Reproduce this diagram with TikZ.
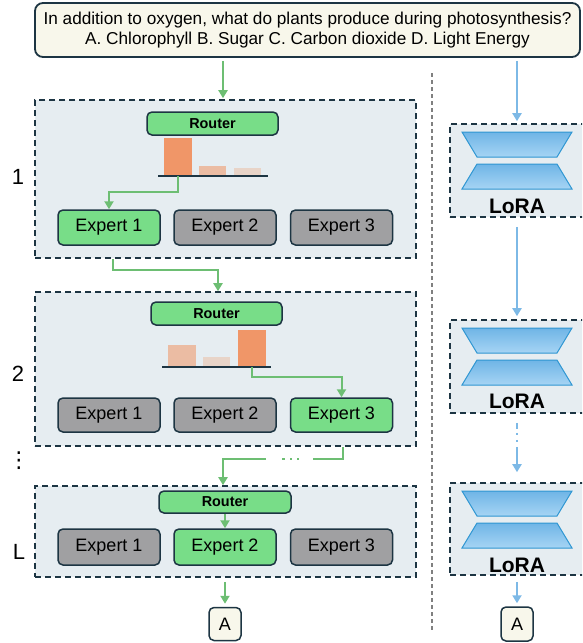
\documentclass[tikz,border=0pt]{standalone}
\usepackage{fontspec}
\setmainfont{Liberation Sans}
\newfontfamily\djv{DejaVu Sans}
\usetikzlibrary{arrows.meta}
\definecolor{dark}{HTML}{1D3543}
\definecolor{layerfill}{HTML}{E6EDF1}
\definecolor{greenfill}{HTML}{78DD88}
\definecolor{grayexp}{HTML}{A0A0A2}
\definecolor{gconn}{HTML}{6DBE73}
\definecolor{bconn}{HTML}{7DB9E6}
\definecolor{qfill}{HTML}{F8F7EB}
\definecolor{barhi}{HTML}{F09668}
\definecolor{barmid}{HTML}{EBBCA3}
\definecolor{barlo}{HTML}{E8D4C8}
\definecolor{traptop}{HTML}{6FB5E6}
\definecolor{trapbot}{HTML}{A6D4F4}
\definecolor{trapedge}{HTML}{2E96D2}
\definecolor{divider}{HTML}{808080}
\begin{document}
\begin{tikzpicture}[x=1pt,y=-1pt,
  layer/.style={draw=dark, line width=1.6pt, dash pattern=on 6pt off 4pt, fill=layerfill, inner sep=0pt, rectangle},
  rbox/.style={draw=dark, line width=1.5pt, rounded corners=5pt, inner sep=0pt, rectangle},
  router/.style={rbox, fill=greenfill, font=\fontsize{14.4}{16}\selectfont\bfseries, minimum height=23pt, minimum width=131pt},
  expert/.style={rbox, fill=grayexp, font=\fontsize{18}{20}\selectfont, minimum width=102pt, minimum height=35pt},
  active/.style={expert, fill=greenfill},
  barbox/.style={rectangle, inner sep=0pt, draw=none, anchor=south},
  baseln/.style={draw=dark, line width=1.2pt},
  gline/.style={draw=gconn, line width=2pt},
  garrow/.style={gline, -{Triangle[length=8pt,width=9pt]}},
  barrow/.style={draw=bconn, line width=2pt, -{Triangle[length=8pt,width=9pt]}},
  lab/.style={font=\fontsize{22}{24}\selectfont, inner sep=0pt},
  loralab/.style={font=\fontsize{21}{24}\selectfont\bfseries, inner sep=0pt},
  ansbox/.style={rbox, fill=qfill, font=\fontsize{18}{20}\selectfont, minimum width=32pt, minimum height=33pt},
  lorapair/.pic={
    \shade[top color=traptop, bottom color=trapbot, draw=trapedge, line width=1pt]
      (-55,0) -- (55,0) -- (40,25) -- (-40,25) -- cycle;
    \shade[top color=traptop, bottom color=trapbot, draw=trapedge, line width=1pt]
      (-40,32) -- (40,32) -- (55,57) -- (-55,57) -- cycle;
  }
]
\useasboundingbox (0,0) rectangle (582,643);
\clip (0,0) rectangle (582,643);

% helper x-positions
\coordinate (c223) at (223,0);
\coordinate (c113) at (113,0);
\coordinate (c218) at (218,0);
\coordinate (c343) at (343,0);
\coordinate (c225) at (225,0);
\coordinate (c517) at (517,0);

% question
\node[rbox, rounded corners=8pt, line width=1.8pt, fill=qfill, minimum width=545pt, minimum height=54pt,
      align=center, font=\fontsize{17.2}{20}\selectfont] (q) at (307.5,30)
  {In addition to oxygen, what do plants produce during photosynthesis?\\A. Chlorophyll B. Sugar C. Carbon dioxide D. Light Energy};

% divider
\draw[divider, line width=2.5pt, dash pattern=on 4pt off 3pt] (432,73) -- (432,630);

% ---------- layer 1 ----------
\node[layer, minimum width=381pt, minimum height=158pt] (b1) at (225.5,179) {};
\node[router] (r1) at (212.5,123.5) {Router};
\node[barbox, fill=barhi, minimum width=28pt, minimum height=38pt] (bar11) at (178,176) {};
\node[barbox, fill=barmid, minimum width=27pt, minimum height=10pt] (bar12) at (212.5,176) {};
\node[barbox, fill=barlo, minimum width=27pt, minimum height=8pt] (bar13) at (247.5,176) {};
\draw[baseln] (158,176) -- (268,176);
\node[active] (e11) at (109,227.5) {Expert 1};
\node[expert] (e12) at (225,227.5) {Expert 2};
\node[expert] (e13) at (341.5,227.5) {Expert 3};
\node[lab] (n1) at (18,177) {1};
\draw[garrow] (bar11.south) -- ++(0,16) -| (e11.north);

% ---------- layer 2 ----------
\node[layer, minimum width=381pt, minimum height=154pt] (b2) at (225.5,369) {};
\node[router] (r2) at (216.5,313.5) {Router};
\node[barbox, fill=barmid, minimum width=28pt, minimum height=22pt] (bar21) at (182,367) {};
\node[barbox, fill=barlo, minimum width=27pt, minimum height=10pt] (bar22) at (216.5,367) {};
\node[barbox, fill=barhi, minimum width=28pt, minimum height=37pt] (bar23) at (252,367) {};
\draw[baseln] (162,367) -- (271,367);
\node[expert, minimum height=34pt] (e21) at (109,415) {Expert 1};
\node[expert, minimum height=34pt] (e22) at (225,415) {Expert 2};
\node[active, minimum height=34pt] (e23) at (341.5,415) {Expert 3};
\node[lab] (n2) at (18,374) {2};
\draw[garrow] (bar23.south) -- ++(0,10) -| (e23.north);

% ---------- layer L ----------
\node[layer, minimum width=381pt, minimum height=91pt] (bL) at (225.5,531.5) {};
\node[router, minimum width=132pt, minimum height=22pt] (rL) at (225,502) {Router};
\node[expert, minimum height=36pt] (eL1) at (109,547) {Expert 1};
\node[active, minimum height=36pt] (eL2) at (225,547) {Expert 2};
\node[expert, minimum height=36pt] (eL3) at (341.5,547) {Expert 3};
\node[lab] (nL) at (19,552) {L};
\node[inner sep=0pt, font=\djv\fontsize{22}{24}\selectfont] (vd) at (19,461) {⋮};
\draw[garrow] (rL.south) -- (eL2.north);

% answer
\node[ansbox] (aL) at (225,624) {A};

% green connectors between layers
\draw[garrow, shorten <=3pt, shorten >=1pt] (c223 |- q.south) -- (c223 |- b1.north);
\draw[garrow] (c113 |- b1.south) -- ++(0,11) -| (c218 |- b2.north);
\coordinate (d1) at (313,459);
\coordinate (d2) at (266,459);
\draw[gline] (c343 |- b2.south) |- (d1);
\draw[gline, dash pattern=on 0pt off 14pt on 2.2pt off 5pt on 2.2pt off 5pt on 2.2pt off 40pt] (d1) -- (d2);
\draw[garrow] (d2) -| (c223 |- bL.north);
\draw[garrow, shorten <=4pt, shorten >=3pt] (c225 |- bL.south) -- (aL.north);

% ---------- LoRA column ----------
\node[layer, minimum width=142pt, minimum height=93pt] (l1) at (521,170.5) {};
\pic at (517,132) {lorapair};
\node[loralab] (t1) at (517,206) {LoRA};

\node[layer, minimum width=142pt, minimum height=93pt] (l2) at (521,366.5) {};
\pic at (517,328) {lorapair};
\node[loralab] (t2) at (517,401) {LoRA};

\node[layer, minimum width=142pt, minimum height=92pt] (l3) at (521,529) {};
\pic at (517,491) {lorapair};
\node[loralab] (t3) at (517,565) {LoRA};

\node[ansbox, minimum height=34pt] (aR) at (517,624) {A};

\draw[barrow, shorten <=3pt, shorten >=2pt] (c517 |- q.south) -- (c517 |- l1.north);
\draw[barrow, shorten <=9pt, shorten >=3pt] (c517 |- l1.south) -- (c517 |- l2.north);
\draw[barrow, shorten <=9pt, shorten >=10pt, dash pattern=on 6pt off 4pt on 2pt off 5pt on 2pt off 5pt on 40pt] (c517 |- l2.south) -- (c517 |- l3.north);
\draw[barrow, shorten <=6pt, shorten >=3pt] (c517 |- l3.south) -- (aR.north);
\end{tikzpicture}
\end{document}
